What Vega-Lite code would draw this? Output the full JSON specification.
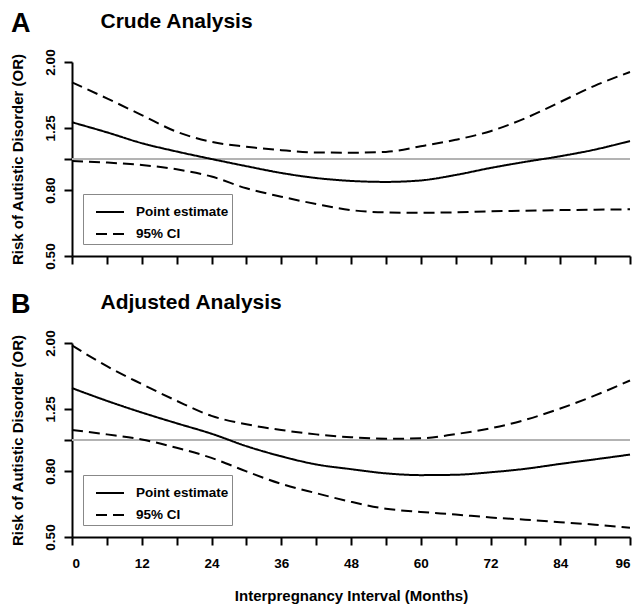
{
  "$schema": "https://vega.github.io/schema/vega-lite/v6.json",
  "padding": {"left": 10, "top": 10, "right": 6, "bottom": 2},
  "background": "white",
  "config": {
    "font": "Liberation Sans",
    "view": {"stroke": null},
    "title": {"color": "black", "fontWeight": "bold", "anchor": "start", "frame": "bounds", "fontSize": 27,
              "baseline": "alphabetic", "offset": -28, "dx": 1},
    "axis": {
      "grid": false,
      "domainColor": "black",
      "domainWidth": 2,
      "tickColor": "black",
      "tickWidth": 2,
      "tickSize": 8,
      "labelColor": "black",
      "labelFontWeight": "bold",
      "labelFontSize": 13.5,
      "titleColor": "black",
      "titleFontWeight": "bold",
      "titleFontSize": 15
    },
    "legend": {
      "title": null, "orient": "none", "legendX": 11, "legendY": 132, "strokeColor": "#888",
      "fillColor": "white", "padding": 3, "symbolType": "stroke", "symbolSize": 784,
      "symbolStrokeWidth": 2, "symbolStrokeColor": "black", "symbolOffset": 9, "labelFontSize": 13.5,
      "labelFontWeight": "bold", "labelColor": "black", "labelOffset": 11, "rowPadding": -12
    }
  },
  "data": {
    "values": [
      {"p":"A","b":"est","s":"Point estimate","m":0,"or":1.30},
      {"p":"A","b":"est","s":"Point estimate","m":6,"or":1.21},
      {"p":"A","b":"est","s":"Point estimate","m":12,"or":1.12},
      {"p":"A","b":"est","s":"Point estimate","m":18,"or":1.055},
      {"p":"A","b":"est","s":"Point estimate","m":24,"or":1.00},
      {"p":"A","b":"est","s":"Point estimate","m":30,"or":0.95},
      {"p":"A","b":"est","s":"Point estimate","m":36,"or":0.905},
      {"p":"A","b":"est","s":"Point estimate","m":42,"or":0.873},
      {"p":"A","b":"est","s":"Point estimate","m":48,"or":0.855},
      {"p":"A","b":"est","s":"Point estimate","m":54,"or":0.849},
      {"p":"A","b":"est","s":"Point estimate","m":60,"or":0.858},
      {"p":"A","b":"est","s":"Point estimate","m":66,"or":0.892},
      {"p":"A","b":"est","s":"Point estimate","m":72,"or":0.938},
      {"p":"A","b":"est","s":"Point estimate","m":78,"or":0.98},
      {"p":"A","b":"est","s":"Point estimate","m":84,"or":1.02},
      {"p":"A","b":"est","s":"Point estimate","m":90,"or":1.07},
      {"p":"A","b":"est","s":"Point estimate","m":96,"or":1.137},
      {"p":"A","b":"up","s":"95% CI","m":0,"or":1.73},
      {"p":"A","b":"up","s":"95% CI","m":6,"or":1.542},
      {"p":"A","b":"up","s":"95% CI","m":12,"or":1.369},
      {"p":"A","b":"up","s":"95% CI","m":18,"or":1.215},
      {"p":"A","b":"up","s":"95% CI","m":24,"or":1.13},
      {"p":"A","b":"up","s":"95% CI","m":30,"or":1.092},
      {"p":"A","b":"up","s":"95% CI","m":36,"or":1.065},
      {"p":"A","b":"up","s":"95% CI","m":42,"or":1.048},
      {"p":"A","b":"up","s":"95% CI","m":48,"or":1.046},
      {"p":"A","b":"up","s":"95% CI","m":54,"or":1.052},
      {"p":"A","b":"up","s":"95% CI","m":60,"or":1.095},
      {"p":"A","b":"up","s":"95% CI","m":66,"or":1.147},
      {"p":"A","b":"up","s":"95% CI","m":72,"or":1.22},
      {"p":"A","b":"up","s":"95% CI","m":78,"or":1.339},
      {"p":"A","b":"up","s":"95% CI","m":84,"or":1.503},
      {"p":"A","b":"up","s":"95% CI","m":90,"or":1.69},
      {"p":"A","b":"up","s":"95% CI","m":96,"or":1.862},
      {"p":"A","b":"lo","s":"95% CI","m":0,"or":0.986},
      {"p":"A","b":"lo","s":"95% CI","m":6,"or":0.975},
      {"p":"A","b":"lo","s":"95% CI","m":12,"or":0.958},
      {"p":"A","b":"lo","s":"95% CI","m":18,"or":0.929},
      {"p":"A","b":"lo","s":"95% CI","m":24,"or":0.882},
      {"p":"A","b":"lo","s":"95% CI","m":30,"or":0.811},
      {"p":"A","b":"lo","s":"95% CI","m":36,"or":0.764},
      {"p":"A","b":"lo","s":"95% CI","m":42,"or":0.725},
      {"p":"A","b":"lo","s":"95% CI","m":48,"or":0.694},
      {"p":"A","b":"lo","s":"95% CI","m":54,"or":0.683},
      {"p":"A","b":"lo","s":"95% CI","m":60,"or":0.681},
      {"p":"A","b":"lo","s":"95% CI","m":66,"or":0.683},
      {"p":"A","b":"lo","s":"95% CI","m":72,"or":0.688},
      {"p":"A","b":"lo","s":"95% CI","m":78,"or":0.691},
      {"p":"A","b":"lo","s":"95% CI","m":84,"or":0.694},
      {"p":"A","b":"lo","s":"95% CI","m":90,"or":0.696},
      {"p":"A","b":"lo","s":"95% CI","m":96,"or":0.698},
      {"p":"B","b":"est","s":"Point estimate","m":0,"or":1.449},
      {"p":"B","b":"est","s":"Point estimate","m":6,"or":1.323},
      {"p":"B","b":"est","s":"Point estimate","m":12,"or":1.217},
      {"p":"B","b":"est","s":"Point estimate","m":18,"or":1.127},
      {"p":"B","b":"est","s":"Point estimate","m":24,"or":1.046},
      {"p":"B","b":"est","s":"Point estimate","m":30,"or":0.957},
      {"p":"B","b":"est","s":"Point estimate","m":36,"or":0.89},
      {"p":"B","b":"est","s":"Point estimate","m":42,"or":0.84},
      {"p":"B","b":"est","s":"Point estimate","m":48,"or":0.812},
      {"p":"B","b":"est","s":"Point estimate","m":54,"or":0.788},
      {"p":"B","b":"est","s":"Point estimate","m":60,"or":0.778},
      {"p":"B","b":"est","s":"Point estimate","m":66,"or":0.78},
      {"p":"B","b":"est","s":"Point estimate","m":72,"or":0.794},
      {"p":"B","b":"est","s":"Point estimate","m":78,"or":0.814},
      {"p":"B","b":"est","s":"Point estimate","m":84,"or":0.843},
      {"p":"B","b":"est","s":"Point estimate","m":90,"or":0.871},
      {"p":"B","b":"est","s":"Point estimate","m":96,"or":0.901},
      {"p":"B","b":"up","s":"95% CI","m":0,"or":1.967},
      {"p":"B","b":"up","s":"95% CI","m":6,"or":1.694},
      {"p":"B","b":"up","s":"95% CI","m":12,"or":1.492},
      {"p":"B","b":"up","s":"95% CI","m":18,"or":1.323},
      {"p":"B","b":"up","s":"95% CI","m":24,"or":1.188},
      {"p":"B","b":"up","s":"95% CI","m":30,"or":1.119},
      {"p":"B","b":"up","s":"95% CI","m":36,"or":1.074},
      {"p":"B","b":"up","s":"95% CI","m":42,"or":1.041},
      {"p":"B","b":"up","s":"95% CI","m":48,"or":1.02},
      {"p":"B","b":"up","s":"95% CI","m":54,"or":1.009},
      {"p":"B","b":"up","s":"95% CI","m":60,"or":1.012},
      {"p":"B","b":"up","s":"95% CI","m":66,"or":1.043},
      {"p":"B","b":"up","s":"95% CI","m":72,"or":1.087},
      {"p":"B","b":"up","s":"95% CI","m":78,"or":1.155},
      {"p":"B","b":"up","s":"95% CI","m":84,"or":1.252},
      {"p":"B","b":"up","s":"95% CI","m":90,"or":1.375},
      {"p":"B","b":"up","s":"95% CI","m":96,"or":1.53},
      {"p":"B","b":"lo","s":"95% CI","m":0,"or":1.074},
      {"p":"B","b":"lo","s":"95% CI","m":6,"or":1.041},
      {"p":"B","b":"lo","s":"95% CI","m":12,"or":1.004},
      {"p":"B","b":"lo","s":"95% CI","m":18,"or":0.946},
      {"p":"B","b":"lo","s":"95% CI","m":24,"or":0.88},
      {"p":"B","b":"lo","s":"95% CI","m":30,"or":0.799},
      {"p":"B","b":"lo","s":"95% CI","m":36,"or":0.731},
      {"p":"B","b":"lo","s":"95% CI","m":42,"or":0.684},
      {"p":"B","b":"lo","s":"95% CI","m":48,"or":0.643},
      {"p":"B","b":"lo","s":"95% CI","m":54,"or":0.612},
      {"p":"B","b":"lo","s":"95% CI","m":60,"or":0.598},
      {"p":"B","b":"lo","s":"95% CI","m":66,"or":0.587},
      {"p":"B","b":"lo","s":"95% CI","m":72,"or":0.575},
      {"p":"B","b":"lo","s":"95% CI","m":78,"or":0.566},
      {"p":"B","b":"lo","s":"95% CI","m":84,"or":0.556},
      {"p":"B","b":"lo","s":"95% CI","m":90,"or":0.546},
      {"p":"B","b":"lo","s":"95% CI","m":96,"or":0.534}
    ]
  },
  "spacing": 21,
  "resolve": {"scale": {"strokeDash": "independent", "x": "independent", "y": "independent"}, "legend": {"strokeDash": "independent"}},
  "vconcat": [
    {
      "width": 558,
      "height": 194,
      "title": {"text": "A"},
      "transform": [{"filter": "datum.p == 'A'"}],
      "resolve": {"axis": {"x": "independent"}},
      "layer": [
        {
          "mark": {"type": "rule", "color": "#b3b3b3", "strokeWidth": 2},
          "encoding": {
            "x": {"datum": 0, "type": "quantitative",
                  "axis": {"orient": "top", "domain": false, "ticks": false, "labels": false, "title": "Crude Analysis",
                           "titleFontSize": 21, "titleAlign": "left", "titleAnchor": "start", "titleBaseline": "alphabetic",
                           "titleX": 28, "titleY": -35}},
            "x2": {"datum": 96},
            "y": {"datum": 1, "type": "quantitative"}
          }
        },
        {
          "mark": {"type": "line", "color": "black", "strokeWidth": 2, "interpolate": "monotone"},
          "encoding": {
            "x": {"field": "m", "type": "quantitative", "scale": {"domain": [0, 96], "nice": false},
                  "axis": {"orient": "bottom", "values": [0,6,12,18,24,30,36,42,48,54,60,66,72,78,84,90,96], "labels": false, "title": null}},
            "y": {"field": "or", "type": "quantitative", "scale": {"type": "log", "domain": [0.5, 2], "nice": false},
                  "axis": {"values": [0.5, 0.8, 1, 1.25, 2], "labelExpr": "datum.value == 1 ? '' : format(datum.value, '.2f')",
                           "labelAngle": -90, "labelAlign": "center", "labelBaseline": "bottom", "labelPadding": 7,
                           "title": "Risk of Autistic Disorder (OR)", "titlePadding": 18}},
            "strokeDash": {"field": "s", "type": "nominal",
                           "scale": {"domain": ["Point estimate", "95% CI"], "range": [[1, 0], [11, 6]]}},
            "detail": {"field": "b", "type": "nominal"}
          }
        }
      ]
    },
    {
      "width": 558,
      "height": 194,
      "title": {"text": "B"},
      "transform": [{"filter": "datum.p == 'B'"}],
      "resolve": {"axis": {"x": "independent"}},
      "layer": [
        {
          "mark": {"type": "rule", "color": "#b3b3b3", "strokeWidth": 2},
          "encoding": {
            "x": {"datum": 0, "type": "quantitative",
                  "axis": {"orient": "top", "domain": false, "ticks": false, "labels": false, "title": "Adjusted Analysis",
                           "titleFontSize": 21, "titleAlign": "left", "titleAnchor": "start", "titleBaseline": "alphabetic",
                           "titleX": 28, "titleY": -35}},
            "x2": {"datum": 96},
            "y": {"datum": 1, "type": "quantitative"}
          }
        },
        {
          "mark": {"type": "line", "color": "black", "strokeWidth": 2, "interpolate": "monotone"},
          "encoding": {
            "x": {"field": "m", "type": "quantitative", "scale": {"domain": [0, 96], "nice": false},
                  "axis": {"orient": "bottom", "values": [0,6,12,18,24,30,36,42,48,54,60,66,72,78,84,90,96],
                           "labelExpr": "datum.value % 12 == 0 ? datum.label : ''", "labelPadding": 11,
                           "title": "Interpregnancy Interval (Months)", "titlePadding": 19}},
            "y": {"field": "or", "type": "quantitative", "scale": {"type": "log", "domain": [0.5, 2], "nice": false},
                  "axis": {"values": [0.5, 0.8, 1, 1.25, 2], "labelExpr": "datum.value == 1 ? '' : format(datum.value, '.2f')",
                           "labelAngle": -90, "labelAlign": "center", "labelBaseline": "bottom", "labelPadding": 7,
                           "title": "Risk of Autistic Disorder (OR)", "titlePadding": 18}},
            "strokeDash": {"field": "s", "type": "nominal",
                           "scale": {"domain": ["Point estimate", "95% CI"], "range": [[1, 0], [11, 6]]}},
            "detail": {"field": "b", "type": "nominal"}
          }
        }
      ]
    }
  ]
}
